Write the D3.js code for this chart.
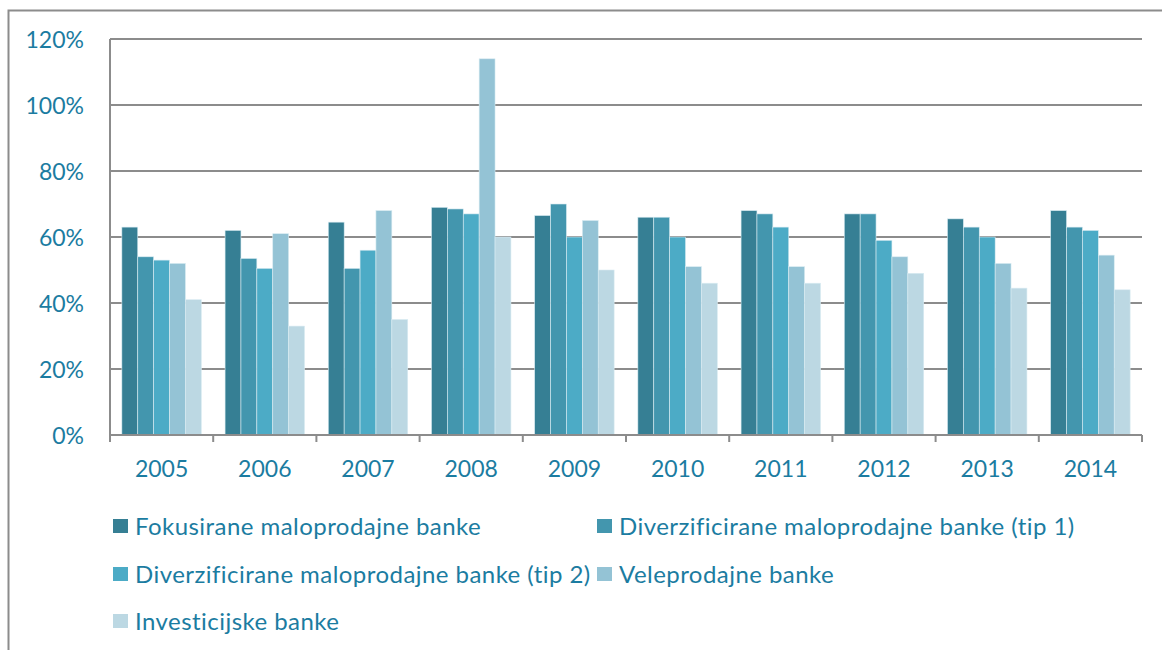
<!DOCTYPE html>
<html>
<head>
<meta charset="utf-8">
<script src="https://cdn.jsdelivr.net/npm/d3@7"></script>
<style>
  body { margin: 0; background: #fff; }
  text { font-family: Lato, "Open Sans", sans-serif; fill: #1b7ca1; }
</style>
</head>
<body>
<div id="chart"></div>
<script>
var years = ["2005", "2006", "2007", "2008", "2009", "2010", "2011", "2012", "2013", "2014"];
var seriesNames = [
  "Fokusirane maloprodajne banke",
  "Diverzificirane maloprodajne banke (tip 1)",
  "Diverzificirane maloprodajne banke (tip 2)",
  "Veleprodajne banke",
  "Investicijske banke"
];
var fokusirane = [63, 62, 64.5, 69, 66.5, 66, 68, 67, 65.5, 68];
var diverTip1 = [54, 53.5, 50.5, 68.5, 70, 66, 67, 67, 63, 63];
var diverTip2 = [53, 50.5, 56, 67, 60, 60, 63, 59, 60, 62];
var veleprodajne = [52, 61, 68, 114, 65, 51, 51, 54, 52, 54.5];
var investicijske = [41, 33, 35, 60, 50, 46, 46, 49, 44.5, 44];
var yTicks = [0, 20, 40, 60, 80, 100, 120];
var colors = ["#367f94", "#4396ae", "#4cabc6", "#94c3d5", "#bcd8e3"];

var allSeries = [fokusirane, diverTip1, diverTip2, veleprodajne, investicijske];

var W = 1162, H = 650;
var margin = {top: 39, right: 20, bottom: 215, left: 110},
  width = W - margin.left - margin.right,
  height = H - margin.top - margin.bottom;

var svg = d3.select("#chart").append("svg")
  .attr("width", W)
  .attr("height", H);

// outer frame (only left and top visible)
svg.append("path")
  .attr("d", "M8.5," + H + "V10.5H" + W)
  .attr("fill", "none")
  .attr("stroke", "#8c8c8c")
  .attr("stroke-width", 2);

var g = svg.append("g")
  .attr("transform", "translate(" + margin.left + "," + margin.top + ")");

var x0 = d3.scaleBand().domain(years).range([0, width]).paddingInner(0.23).paddingOuter(0.115);
var xBand = d3.scaleBand().domain(years).range([0, width]);
var x1 = d3.scaleBand().domain(d3.range(5)).range([0, x0.bandwidth()]);
var y = d3.scaleLinear().domain([0, 120]).range([height, 0]);

// gridlines
g.selectAll(".grid")
  .data(yTicks.filter(function(d){ return d > 0; }))
  .enter().append("line")
  .attr("class", "grid")
  .attr("x1", 0)
  .attr("x2", width)
  .attr("y1", function(d){ return y(d); })
  .attr("y2", function(d){ return y(d); })
  .attr("stroke", "#8c8c8c")
  .attr("stroke-width", 2);

// bars
var groups = g.selectAll(".year")
  .data(years)
  .enter().append("g")
  .attr("class", "year")
  .attr("transform", function(d){ return "translate(" + x0(d) + ",0)"; });

groups.selectAll("rect")
  .data(function(d, i){ return allSeries.map(function(s, k){ return {k: k, v: s[i]}; }); })
  .enter().append("rect")
  .attr("x", function(d){ return x1(d.k); })
  .attr("width", x1.bandwidth())
  .attr("y", function(d){ return y(d.v); })
  .attr("height", function(d){ return height - y(d.v); })
  .attr("fill", function(d){ return colors[d.k]; })
  .attr("stroke", "#d9ecf2")
  .attr("stroke-width", 0.6);

// y axis
var yAxis = g.append("g")
  .call(d3.axisLeft(y).tickValues(yTicks).tickSize(0).tickPadding(26)
    .tickFormat(function(d){ return d + "%"; }));
yAxis.select(".domain").remove();
yAxis.selectAll("text").style("font-size", "23px").attr("dy", "0.36em");

g.append("line")
  .attr("x1", 0).attr("x2", 0)
  .attr("y1", 0).attr("y2", height + 7)
  .attr("stroke", "#8c8c8c").attr("stroke-width", 2);

// x axis
g.append("line")
  .attr("x1", 0).attr("x2", width)
  .attr("y1", height).attr("y2", height)
  .attr("stroke", "#8c8c8c").attr("stroke-width", 2);

var bounds = years.map(function(d){ return xBand(d); }).concat([width]);
g.selectAll(".xtick")
  .data(bounds)
  .enter().append("line")
  .attr("class", "xtick")
  .attr("x1", function(d){ return d; })
  .attr("x2", function(d){ return d; })
  .attr("y1", height)
  .attr("y2", height + 7)
  .attr("stroke", "#8c8c8c").attr("stroke-width", 2);

g.selectAll(".xlabel")
  .data(years)
  .enter().append("text")
  .attr("class", "xlabel")
  .attr("x", function(d){ return xBand(d) + xBand.bandwidth() / 2; })
  .attr("y", height + 34)
  .attr("dy", "0.36em")
  .attr("text-anchor", "middle")
  .style("font-size", "23px")
  .text(function(d){ return d; });

// legend
var legendPos = [
  {x: 113, y: 526}, {x: 597, y: 526},
  {x: 113, y: 574}, {x: 597, y: 574},
  {x: 113, y: 621}
];
var legend = svg.selectAll(".legend")
  .data(seriesNames)
  .enter().append("g")
  .attr("class", "legend")
  .attr("transform", function(d, i){ return "translate(" + legendPos[i].x + "," + legendPos[i].y + ")"; });

legend.append("rect")
  .attr("x", 0).attr("y", -7)
  .attr("width", 15).attr("height", 14)
  .attr("fill", function(d, i){ return colors[i]; });

legend.append("text")
  .attr("x", 22)
  .attr("y", 0)
  .attr("dy", "0.36em")
  .style("font-size", "24px")
  .style("letter-spacing", "0.45px")
  .text(function(d){ return d; });
</script>
</body>
</html>
